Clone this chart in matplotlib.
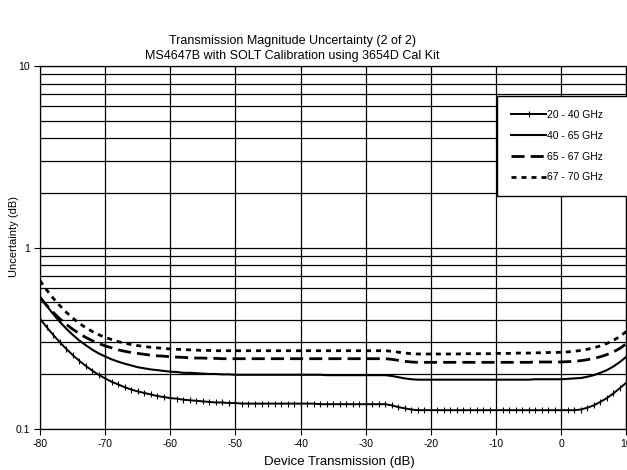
import numpy as np
import matplotlib
matplotlib.use("Agg")
import matplotlib.pyplot as plt
from matplotlib.ticker import LogLocator, NullFormatter, FixedLocator

plt.rcParams['font.family'] = ['Liberation Sans', 'DejaVu Sans']
plt.rcParams['axes.unicode_minus'] = False

# device transmission (dB), 1 dB steps
trans = list(range(-80, 11))

# uncertainty (dB), index 0 -> -80 dB
u_20_40 = [0.405, 0.365, 0.331, 0.302, 0.277, 0.256, 0.238, 0.223, 0.210, 0.199,
           0.190, 0.182, 0.176, 0.170, 0.165, 0.161, 0.158, 0.155, 0.152, 0.150,
           0.148, 0.147, 0.145, 0.144, 0.143, 0.142, 0.141, 0.140, 0.140, 0.139,
           0.139, 0.138, 0.138, 0.138, 0.138, 0.138, 0.138, 0.138, 0.138, 0.138,
           0.138, 0.138, 0.138, 0.137, 0.137, 0.137, 0.137, 0.137, 0.137, 0.137,
           0.137, 0.137, 0.137, 0.137, 0.135, 0.132, 0.130, 0.128, 0.127, 0.127,
           0.127, 0.127, 0.127, 0.127, 0.127, 0.127, 0.127, 0.127, 0.127, 0.127,
           0.127, 0.127, 0.127, 0.127, 0.127, 0.127, 0.127, 0.127, 0.127, 0.127,
           0.127, 0.127, 0.127, 0.128, 0.131, 0.135, 0.141, 0.148, 0.157, 0.168,
           0.180]

u_40_65 = [0.536, 0.478, 0.431, 0.391, 0.358, 0.331, 0.308, 0.290, 0.274, 0.261,
           0.251, 0.242, 0.235, 0.229, 0.224, 0.219, 0.216, 0.213, 0.211, 0.209,
           0.207, 0.206, 0.204, 0.204, 0.203, 0.202, 0.201, 0.201, 0.200, 0.200,
           0.199, 0.199, 0.199, 0.199, 0.199, 0.199, 0.199, 0.199, 0.199, 0.199,
           0.199, 0.199, 0.199, 0.199, 0.198, 0.198, 0.198, 0.198, 0.198, 0.198,
           0.198, 0.198, 0.198, 0.198, 0.196, 0.193, 0.190, 0.188, 0.187, 0.187,
           0.187, 0.187, 0.187, 0.187, 0.187, 0.187, 0.187, 0.187, 0.187, 0.187,
           0.187, 0.187, 0.187, 0.187, 0.187, 0.187, 0.188, 0.188, 0.188, 0.188,
           0.188, 0.189, 0.190, 0.191, 0.194, 0.198, 0.204, 0.211, 0.221, 0.234,
           0.250]

u_65_67 = [0.530, 0.481, 0.440, 0.406, 0.378, 0.355, 0.336, 0.320, 0.307, 0.296,
           0.287, 0.280, 0.273, 0.268, 0.264, 0.261, 0.258, 0.255, 0.253, 0.252,
           0.250, 0.249, 0.248, 0.247, 0.246, 0.246, 0.245, 0.245, 0.244, 0.244,
           0.244, 0.244, 0.244, 0.244, 0.244, 0.244, 0.244, 0.244, 0.244, 0.244,
           0.244, 0.244, 0.244, 0.244, 0.244, 0.244, 0.244, 0.244, 0.244, 0.244,
           0.244, 0.244, 0.244, 0.244, 0.242, 0.239, 0.236, 0.234, 0.233, 0.233,
           0.233, 0.233, 0.233, 0.233, 0.233, 0.233, 0.233, 0.233, 0.233, 0.233,
           0.233, 0.233, 0.233, 0.233, 0.233, 0.233, 0.234, 0.234, 0.234, 0.234,
           0.234, 0.235, 0.236, 0.238, 0.241, 0.245, 0.250, 0.257, 0.266, 0.278,
           0.295]

u_67_70 = [0.657, 0.585, 0.527, 0.480, 0.441, 0.409, 0.383, 0.362, 0.345, 0.331,
           0.320, 0.311, 0.303, 0.297, 0.292, 0.288, 0.285, 0.282, 0.280, 0.278,
           0.276, 0.275, 0.274, 0.273, 0.272, 0.271, 0.271, 0.270, 0.270, 0.270,
           0.270, 0.270, 0.270, 0.270, 0.270, 0.270, 0.270, 0.270, 0.270, 0.270,
           0.270, 0.270, 0.270, 0.270, 0.270, 0.270, 0.270, 0.270, 0.270, 0.270,
           0.270, 0.270, 0.270, 0.270, 0.268, 0.265, 0.262, 0.260, 0.259, 0.259,
           0.259, 0.259, 0.259, 0.259, 0.259, 0.260, 0.260, 0.260, 0.260, 0.260,
           0.261, 0.261, 0.261, 0.262, 0.262, 0.262, 0.263, 0.263, 0.264, 0.264,
           0.265, 0.266, 0.268, 0.271, 0.275, 0.280, 0.287, 0.296, 0.308, 0.323,
           0.345]

labels = ["20 - 40 GHz", "40 - 65 GHz", "65 - 67 GHz", "67 - 70 GHz"]
x_ticks = [-80, -70, -60, -50, -40, -30, -20, -10, 0, 10]

fig = plt.figure(figsize=(6.27, 4.70), dpi=100)
ax = fig.add_axes([0.0638, 0.0872, 0.9352, 0.7724])

ax.set_yscale("log")
ax.set_xlim(-80, 10)
ax.set_ylim(0.1, 10)

# grid
ax.yaxis.set_major_locator(FixedLocator([0.1, 1, 10]))
ax.yaxis.set_minor_locator(LogLocator(base=10, subs=np.arange(2, 10)))
ax.yaxis.set_minor_formatter(NullFormatter())
ax.set_yticklabels(["0.1", "1", "10"])
ax.set_xticks(x_ticks)
ax.grid(True, which="major", color="black", linewidth=0.9)
ax.grid(True, which="minor", axis="y", color="black", linewidth=0.9)
ax.tick_params(which="minor", length=0)
ax.tick_params(which="major", length=4, width=0.8, labelsize=7.5, pad=3)
for s in ax.spines.values():
    s.set_linewidth(0.9)

# curves
ax.plot(trans, u_20_40, color="black", lw=1.4, marker="|", markersize=5,
        markeredgewidth=0.8, label=labels[0])
ax.plot(trans, u_40_65, color="black", lw=1.5, label=labels[1])
ax.plot(trans, u_65_67, color="black", lw=2.0, dashes=(4.7, 2.2), label=labels[2])
ax.plot(trans, u_67_70, color="black", lw=2.0, dashes=(1.8, 1.8), label=labels[3])

ax.set_title("Transmission Magnitude Uncertainty (2 of 2)\nMS4647B with SOLT Calibration using 3654D Cal Kit",
             fontsize=9, pad=5, linespacing=1.35, x=0.43)
ax.set_xlabel("Device Transmission (dB)", fontsize=9.5)
ax.xaxis.set_label_coords(0.511, -0.073)
ax.set_ylabel("Uncertainty (dB)", fontsize=8)
ax.yaxis.set_label_coords(-0.036, 0.53)

leg = ax.legend(loc="upper left", bbox_to_anchor=(0.78, 0.917, 0.222, 0.0),
                mode="expand", fontsize=7.5,
                frameon=True, fancybox=False, framealpha=1, edgecolor="black",
                handlelength=3.4, handletextpad=0.1, labelspacing=1.05,
                borderpad=1.3, borderaxespad=0)
leg.get_frame().set_linewidth(1.0)

fig.savefig("out.png", dpi=100)
